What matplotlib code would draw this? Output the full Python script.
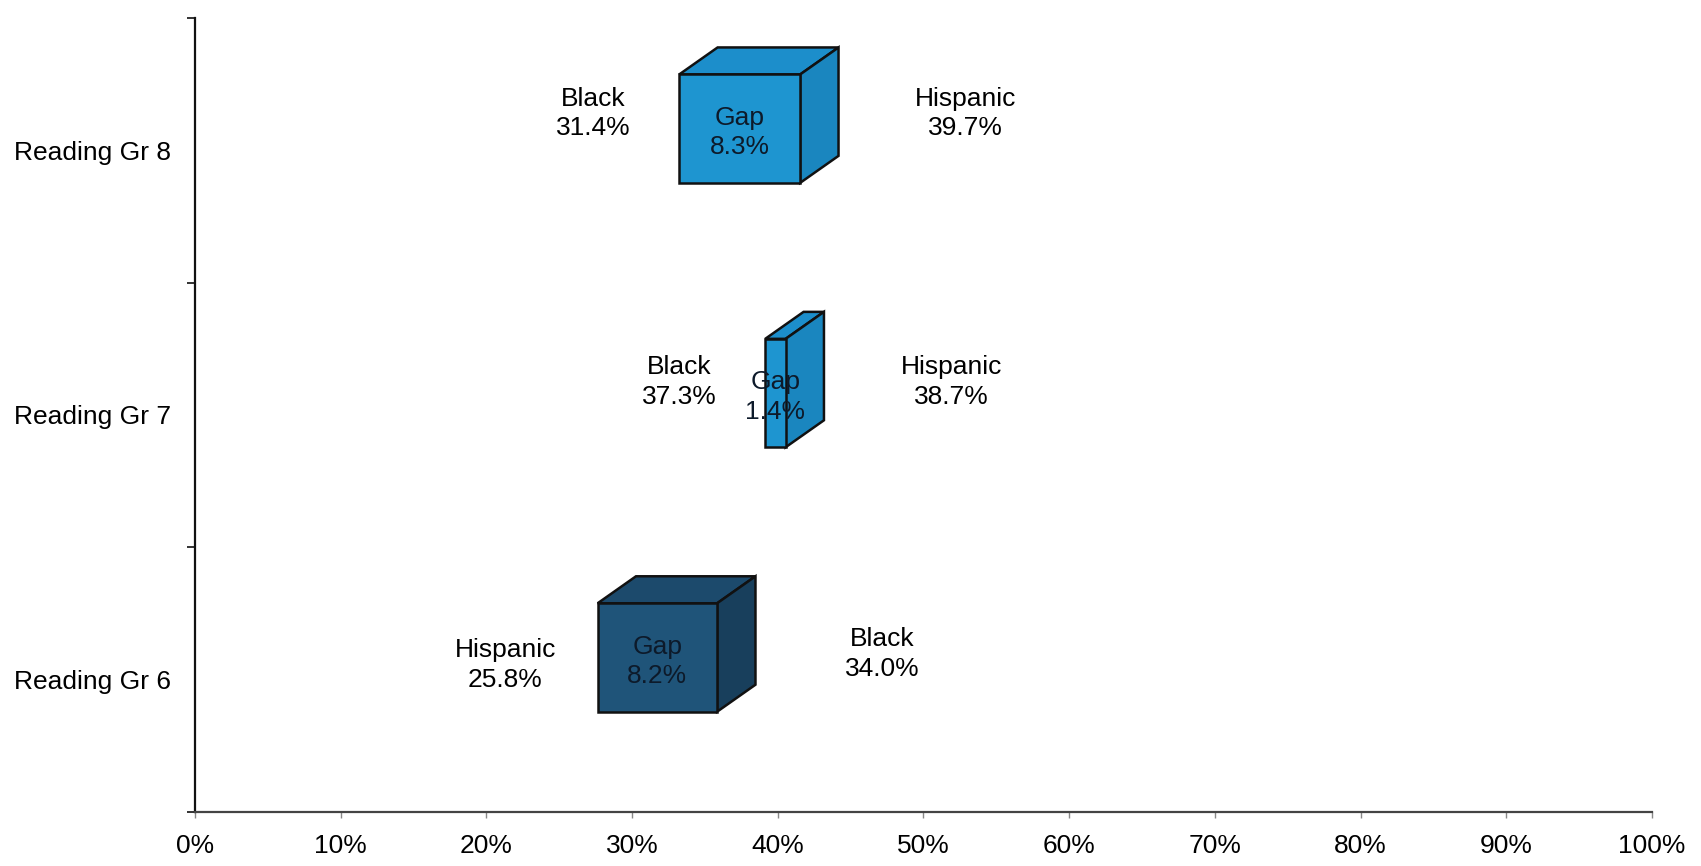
import matplotlib.pyplot as plt
from matplotlib.patches import Polygon
from matplotlib.ticker import FixedLocator, FuncFormatter

plt.rcParams['font.family'] = ['Liberation Sans', 'DejaVu Sans']

# data
grades = ['Reading Gr 6', 'Reading Gr 7', 'Reading Gr 8']
left_group = ['Hispanic', 'Black', 'Black']
left_vals = [25.8, 37.3, 31.4]
right_group = ['Black', 'Hispanic', 'Hispanic']
right_vals = [34.0, 38.7, 39.7]
gaps = [8.2, 1.4, 8.3]

# styles (front, top, side)
box_colors = [('#1f5479', '#1c4a6c', '#183f5c'),
              ('#1e95d0', '#1c8ecb', '#1a86bf'),
              ('#1e95d0', '#1c8ecb', '#1a86bf')]
left_dx = [-4.5, -4.05, -4.05]
left_dy = [0.055, 0.125, 0.14]
right_dy = [0.095, 0.125, 0.14]

shift_x = 1.84      # front face shift (3D look)
depth_x = 2.63
depth_y = 0.102
half_h = 0.205
face_up = 0.083
fs = 19

fig = plt.figure(figsize=(17.01, 8.66), dpi=100)
ax = fig.add_axes([0.1146, 0.0628, 0.8566, 0.916])

for i in range(len(grades)):
    x0 = left_vals[i] + shift_x
    x1 = right_vals[i] + shift_x
    y0 = i + face_up - half_h
    y1 = i + face_up + half_h
    fc, tc, sc = box_colors[i]
    front = Polygon([(x0, y0), (x1, y0), (x1, y1), (x0, y1)], closed=True,
                    facecolor=fc, edgecolor='#111111', lw=1.8, zorder=3)
    top = Polygon([(x0, y1), (x1, y1), (x1 + depth_x, y1 + depth_y), (x0 + depth_x, y1 + depth_y)],
                  closed=True, facecolor=tc, edgecolor='#111111', lw=1.8, zorder=2)
    side = Polygon([(x1, y0), (x1 + depth_x, y0 + depth_y), (x1 + depth_x, y1 + depth_y), (x1, y1)],
                   closed=True, facecolor=sc, edgecolor='#111111', lw=1.8, zorder=2)
    ax.add_patch(top)
    ax.add_patch(side)
    ax.add_patch(front)
    ax.text((x0 + x1) / 2, (y0 + y1) / 2 - 0.015, 'Gap\n%.1f%%' % gaps[i], ha='center', va='center',
            fontsize=fs, color='#0d1a2a', zorder=4, linespacing=1.3)
    ax.text(left_vals[i] + left_dx[i], i + left_dy[i], '%s\n%.1f%%' % (left_group[i], left_vals[i]),
            ha='center', va='center', fontsize=fs, linespacing=1.3)
    ax.text(right_vals[i] + 13.2, i + right_dy[i], '%s\n%.1f%%' % (right_group[i], right_vals[i]),
            ha='center', va='center', fontsize=fs, linespacing=1.3)

ax.set_xlim(0, 100)
ax.set_ylim(-0.5, 2.5)
ax.set_xticks(range(0, 101, 10))
ax.xaxis.set_major_formatter(FuncFormatter(lambda v, p: '%d%%' % v))
ax.yaxis.set_major_locator(FixedLocator([-0.5, 0.5, 1.5, 2.5]))
ax.yaxis.set_major_formatter(FuncFormatter(lambda v, p: ''))
ax.yaxis.set_minor_locator(FixedLocator([0, 1, 2]))
ax.set_yticklabels(grades, minor=True)
ax.tick_params(axis='y', which='major', length=6, width=1.2, color='#111111')
ax.tick_params(axis='y', which='minor', length=0, pad=17, labelsize=fs)
ax.tick_params(axis='x', length=4, width=1.0, color='#888888', pad=12, labelsize=fs)

for s in ['top', 'right']:
    ax.spines[s].set_visible(False)
ax.spines['left'].set_color('#111111')
ax.spines['left'].set_linewidth(1.6)
ax.spines['bottom'].set_color('#444444')
ax.spines['bottom'].set_linewidth(1.6)

fig.savefig('out.png', dpi=100)
